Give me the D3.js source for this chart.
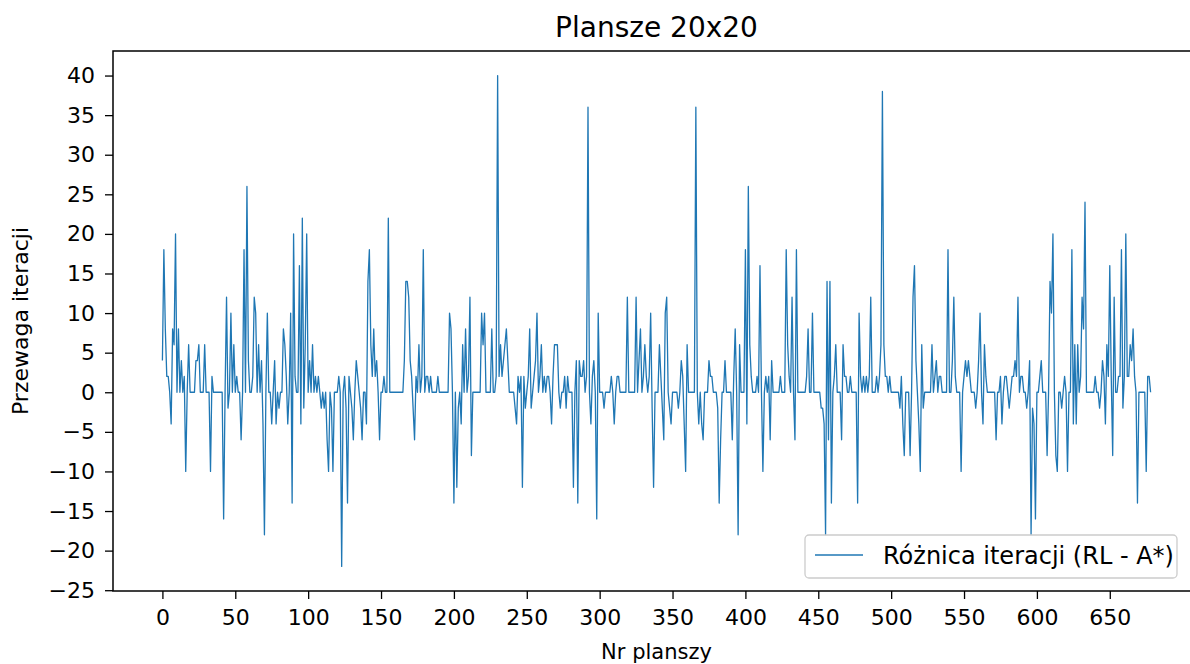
<!DOCTYPE html>
<html>
<head>
<meta charset="utf-8">
<script src="https://cdn.jsdelivr.net/npm/d3@7"></script>
<style>
  body { margin: 0; background: #fff; }
  text { font-family: "DejaVu Sans", sans-serif; fill: #000; }
</style>
</head>
<body>
<script>
// Różnica iteracji (RL - A*) dla kolejnych plansz 20x20
var roznica = [
  4, 18, 8, 2, 2, 0, -4, 8, 6, 20, 0, 8, 0, 4, 0, 2, -10, 0, 6, 0,
  0, 0, 0, 4, 4, 6, 0, 0, 0, 6, 0, 0, 0, -10, 2, 0, 0, 0, 0, 0,
  0, 0, -16, 0, 12, -2, 0, 10, 0, 6, 0, 2, 0, 0, -6, 0, 18, 0, 26, 4,
  0, 0, 2, 12, 10, 0, 6, 0, 4, -4, -18, 0, 10, 0, 0, -4, 0, 4, -4, 0,
  -2, 0, 0, 8, 6, 2, -4, 0, 10, -14, 20, 2, 0, 0, 16, -4, 22, -2, 6, 20,
  0, 4, 0, 6, 0, 2, 0, 2, 0, -2, 0, -2, 0, -6, -10, 0, -2, -10, 0, 0,
  0, 2, 0, -22, 0, 2, -2, -14, 2, 0, -2, -6, 0, 4, 2, 0, -2, -6, 0, 0,
  -4, 14, 18, 6, 2, 8, 2, 4, 0, -6, 0, 0, 2, 0, 0, 22, 0, 0, 0, 0,
  0, 0, 0, 0, 0, 0, 4, 14, 14, 12, 4, 2, -2, -6, 2, 0, 6, 0, 2, 18,
  0, 2, 2, 0, 2, 0, 0, 0, 0, 2, 0, 0, 0, 0, 0, 0, 0, 10, 8, 0,
  -14, 0, -12, -2, 0, -4, 6, 0, 8, 0, 2, 12, -8, 0, 0, 0, 0, 0, 0, 10,
  6, 10, 0, 0, 0, 0, 8, 0, 0, 2, 40, 2, 6, 2, 4, 6, 8, 4, 0, 0,
  0, 0, -2, -4, 2, 0, 2, -12, 2, -2, 0, 2, 8, -2, 0, 2, 4, 10, 0, 2,
  6, 0, 2, 0, 2, 2, 0, -4, 2, 6, 6, 6, 0, -2, 0, 0, 2, -2, 2, 0,
  0, 0, -12, 0, 4, -14, 4, 2, 2, 4, 0, 2, 36, 0, -4, 2, 4, 0, -16, 10,
  0, 0, 0, -2, 0, 0, 0, 0, 2, 0, -4, 0, 2, 2, 0, 0, 0, 0, 0, 12,
  0, 0, 0, 0, 0, 12, 0, 4, 8, 0, 2, 6, 2, 0, 2, 10, -2, -12, 0, 0,
  0, 6, 2, -2, -6, 10, 12, 0, -2, -4, 0, 0, 0, 0, -2, 0, 4, 2, -4, -10,
  6, 0, 0, 0, 0, 0, 36, 0, -4, 0, -4, -6, 0, 0, 0, 4, 2, 2, 0, 0,
  0, -2, -14, -6, 0, 0, 4, 0, 0, 0, 0, -6, 2, 8, 0, -18, 6, 0, 0, 0,
  18, -4, 26, 6, 2, 0, 0, 0, 2, 0, 16, 0, -10, 0, 2, 0, 2, -6, 4, 0,
  0, 0, 0, 0, 2, 0, 0, 0, 18, 6, 2, 0, 12, 0, -6, 18, 0, 0, 0, 0,
  0, 0, 2, 8, 0, 0, 10, 0, 0, 0, 0, 0, -2, -2, -4, -18, 14, -6, 14, -14,
  0, 2, 6, 0, 0, 0, -6, 6, 2, 2, 0, 0, 2, 0, 0, 0, 0, -14, 10, 2,
  0, 2, 0, 2, 0, 2, 12, 0, 0, 0, 2, 0, 2, 6, 38, 6, 2, 2, 0, 2,
  0, 0, 0, 0, 0, 0, -2, 2, -4, -8, 0, 0, 0, -8, 0, 12, 16, 4, 0, -4,
  -10, 6, -2, 0, 0, 0, 0, 0, 6, 0, 2, 4, 0, 2, 2, 0, 0, 0, 0, 18,
  0, 0, 4, 12, 2, 0, 0, 0, -10, 0, 2, 4, 2, 4, 2, 0, 0, 0, -2, 0,
  4, 10, 0, -4, 6, 2, 0, 0, 0, 0, 0, 0, -6, 0, 0, 2, -4, 0, 2, 2,
  0, -2, 0, 2, 2, 4, 2, 12, 0, 2, 2, 0, 0, -2, 0, 4, -18, -2, -4, -16,
  0, 0, 2, 4, 0, 0, 0, -8, 0, 14, 10, 20, 0, -8, -10, 0, 0, -2, 0, 2,
  0, -10, 0, 0, 18, -4, 6, -4, 6, 0, 2, 12, 8, 24, 0, 0, 0, 0, 0, 0,
  2, 0, 0, -2, 0, 4, 2, -4, 6, 2, 16, 2, -8, 12, 0, 0, 2, 2, 18, -2,
  2, 20, 2, 2, 6, 4, 8, 2, 0, -14, 0, 0, 0, 0, 0, -10, 2, 2, 0
];

var xTicks = [0, 50, 100, 150, 200, 250, 300, 350, 400, 450, 500, 550, 600, 650];
var yTicks = [-25, -20, -15, -10, -5, 0, 5, 10, 15, 20, 25, 30, 35, 40];

var title = "Plansze 20x20";
var xLabel = "Nr planszy";
var yLabel = "Przewaga iteracji";
var legendLabel = "Różnica iteracji (RL - A*)";

var W = 1190, H = 664;
var plotL = 113, plotR = 1200, plotT = 51, plotB = 591;

var svg = d3.select("body").append("svg")
    .attr("width", W).attr("height", H);

// marginesy jak w matplotlib (5%)
var n = roznica.length - 1;
var padX = n * 0.05;
var yMin = d3.min(roznica), yMax = d3.max(roznica);
var padY = (yMax - yMin) * 0.05;

var x = d3.scaleLinear().domain([-padX, n + padX]).range([plotL, plotR]);
var y = d3.scaleLinear().domain([yMin - padY, yMax + padY]).range([plotB, plotT]);

var fmt = function(d) { return d < 0 ? "\u2212" + Math.abs(d) : String(d); };

var line = d3.line()
    .x(function(d, i) { return x(i); })
    .y(function(d) { return y(d); });

svg.append("path")
    .datum(roznica)
    .attr("fill", "none")
    .attr("stroke", "#1f77b4")
    .attr("stroke-width", 1.3)
    .attr("stroke-linejoin", "round")
    .attr("d", line);

// osie
var gx = svg.append("g")
    .attr("transform", "translate(0," + plotB + ")")
    .call(d3.axisBottom(x).tickValues(xTicks).tickFormat(fmt).tickSize(8).tickPadding(10).tickSizeOuter(0));
var gy = svg.append("g")
    .attr("transform", "translate(" + plotL + ",0)")
    .call(d3.axisLeft(y).tickValues(yTicks).tickFormat(fmt).tickSize(8).tickPadding(10).tickSizeOuter(0));

[gx, gy].forEach(function(g) {
  g.select(".domain").remove();
  g.selectAll(".tick line").attr("stroke", "#000").attr("stroke-width", 1.3);
  g.selectAll(".tick text")
    .style("font-family", "DejaVu Sans, sans-serif")
    .style("font-size", "22px")
    .attr("fill", "#000");
});

// ramka wykresu
svg.append("rect")
    .attr("x", plotL).attr("y", plotT)
    .attr("width", plotR - plotL).attr("height", plotB - plotT)
    .attr("fill", "none")
    .attr("stroke", "#000")
    .attr("stroke-width", 1.5);

// legenda
var lg = svg.append("g");
lg.append("rect")
    .attr("x", 805).attr("y", 535)
    .attr("width", 372).attr("height", 43)
    .attr("rx", 4).attr("ry", 4)
    .attr("fill", "#fff").attr("fill-opacity", 0.8)
    .attr("stroke", "#cccccc").attr("stroke-width", 1.3);
lg.append("line")
    .attr("x1", 815).attr("x2", 863)
    .attr("y1", 555).attr("y2", 555)
    .attr("stroke", "#1f77b4").attr("stroke-width", 1.3);
lg.append("text")
    .attr("x", 883).attr("y", 564)
    .style("font-size", "24px")
    .text(legendLabel);

// tytuł i opisy osi
svg.append("text")
    .attr("x", (plotL + plotR) / 2).attr("y", 37)
    .attr("text-anchor", "middle")
    .style("font-size", "28px")
    .text(title);

svg.append("text")
    .attr("x", (plotL + plotR) / 2).attr("y", 659)
    .attr("text-anchor", "middle")
    .style("font-size", "21px")
    .text(xLabel);

svg.append("text")
    .attr("transform", "translate(28," + ((plotT + plotB) / 2) + ") rotate(-90)")
    .attr("text-anchor", "middle")
    .style("font-size", "22px")
    .text(yLabel);
</script>
</body>
</html>
